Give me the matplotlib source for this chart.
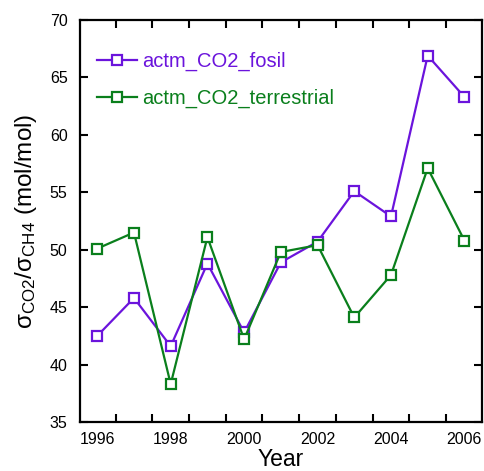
import matplotlib
matplotlib.use("Agg")
import matplotlib.pyplot as plt
from matplotlib.ticker import FixedLocator

plt.rcParams['font.family'] = ['Liberation Sans', 'DejaVu Sans']
plt.rcParams['mathtext.default'] = 'regular'

years = [1996, 1997, 1998, 1999, 2000, 2001, 2002, 2003, 2004, 2005, 2006]
fosil = [42.5, 45.8, 41.6, 48.8, 42.8, 48.9, 50.7, 55.1, 52.9, 66.9, 63.3]
terrestrial = [50.1, 51.5, 38.3, 51.1, 42.2, 49.8, 50.4, 44.1, 47.8, 57.1, 50.8]
xtick_labels = [1996, 1998, 2000, 2002, 2004, 2006]
yticks = [35, 40, 45, 50, 55, 60, 65, 70]

c_fosil = '#6b14dc'
c_terr = '#0a7f1c'

fig = plt.figure(figsize=(4.84, 4.71), dpi=100)
ax = fig.add_axes([0.1653, 0.104, 0.8299, 0.8535])

ax.plot(years, fosil, color=c_fosil, lw=1.6, marker='s', ms=7.5,
        mfc='white', mec=c_fosil, mew=1.6, label='actm_CO2_fosil')
ax.plot(years, terrestrial, color=c_terr, lw=1.6, marker='s', ms=7.5,
        mfc='white', mec=c_terr, mew=1.6, label='actm_CO2_terrestrial')

ax.set_xlim(1995.53, 2006.47)
ax.set_ylim(35, 70)
ax.set_xticks(xtick_labels)
ax.set_xticklabels([str(v) for v in xtick_labels])
ax.xaxis.set_minor_locator(FixedLocator([y + 0.5 for y in years[:-1]]))
ax.set_yticks(yticks)
ax.tick_params(axis='x', which='major', length=0, labelsize=11.5, pad=7)
ax.tick_params(axis='x', which='minor', direction='in', length=6, width=1.5,
               top=True, bottom=True)
ax.tick_params(axis='y', which='major', direction='in', length=6, width=1.5,
               left=True, right=True, labelsize=11.5, pad=9)
for s in ax.spines.values():
    s.set_linewidth(1.6)

ax.set_xlabel('Year', fontsize=16.5, labelpad=1)
ax.set_ylabel('σ$_{CO2}$/σ$_{CH4}$ (mol/mol)', fontsize=17.5, labelpad=8)

leg = ax.legend(loc='upper left', bbox_to_anchor=(-0.022, 0.985), frameon=False,
                fontsize=14.5, handlelength=1.95, handletextpad=0.25,
                labelspacing=0.85, borderaxespad=0.9)
for t, c in zip(leg.get_texts(), [c_fosil, c_terr]):
    t.set_color(c)

fig.savefig('out.png', dpi=100)
